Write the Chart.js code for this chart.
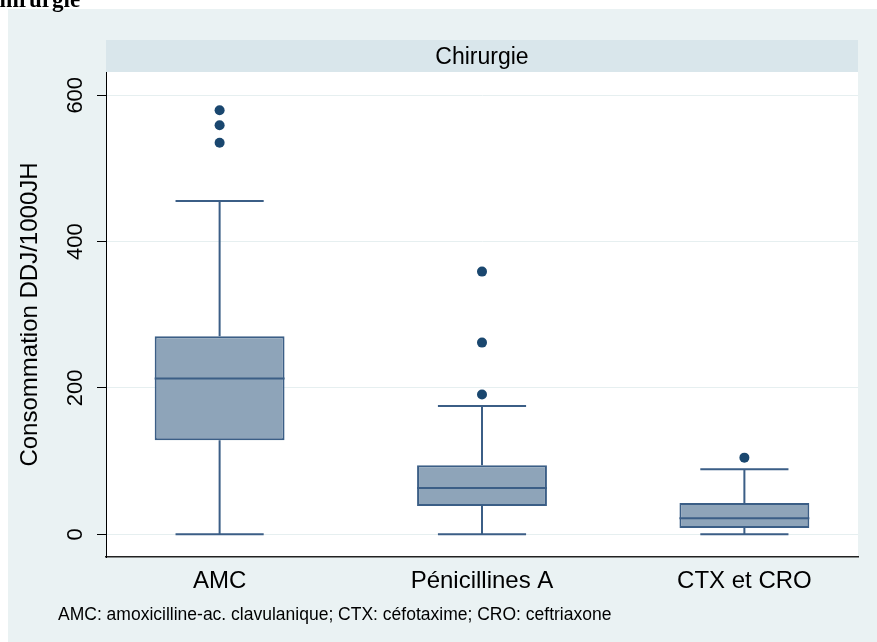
<!DOCTYPE html>
<html>
<head>
<meta charset="utf-8">
<script src="https://cdn.jsdelivr.net/npm/chart.js@4/dist/chart.umd.min.js"></script>
<style>
  html, body { margin: 0; padding: 0; background: #fff; overflow: hidden; }
  #wrap { position: absolute; left: 0; top: 0; width: 877px; height: 642px; }
</style>
</head>
<body>
<div id="wrap"><canvas id="c" width="877" height="642"></canvas></div>
<script>
// Box-plot summaries (DDJ/1000JH) per antibiotic class, surgery wards
const categories   = ['AMC', 'Pénicillines A', 'CTX et CRO'];
const lowerWhisker = [0, 0, 0];
const q1           = [128.5, 38.7, 8.7];
const median       = [212.8, 63.4, 22.0];
const q3           = [270.6, 94.3, 42.8];
const upperWhisker = [455.5, 175.4, 88.8];
const outliers     = [[579.5, 559, 535], [359, 262, 191], [104.8]];
const yTickValues  = [0, 200, 400, 600];

const panelTitle = 'Chirurgie';
const yTitle     = 'Consommation DDJ/1000JH';
const footNote   = 'AMC: amoxicilline-ac. clavulanique; CTX: céfotaxime; CRO: ceftriaxone';

// Styling
const BOX_W = 0.495;      // box width, in category units
const CAP_W = 0.336;      // whisker cap width, in category units
const LINE = '#3B5E86';
const FILL = '#8EA4B9';
const DOT  = '#1A476F';
const LW   = 2;
const SANS = '"Liberation Sans", Arial, sans-serif';

// Line segments separated by gaps (null y breaks the line)
const gap = i => ({ x: i, y: null });
const medianPts = categories.flatMap((_, i) => [
  { x: i - BOX_W / 2, y: median[i] }, { x: i + BOX_W / 2, y: median[i] }, gap(i)
]);
const whiskerPts = categories.flatMap((_, i) => [
  { x: i, y: q3[i] }, { x: i, y: upperWhisker[i] }, gap(i),
  { x: i - CAP_W / 2, y: upperWhisker[i] }, { x: i + CAP_W / 2, y: upperWhisker[i] }, gap(i),
  { x: i, y: q1[i] }, { x: i, y: lowerWhisker[i] }, gap(i),
  { x: i - CAP_W / 2, y: lowerWhisker[i] }, { x: i + CAP_W / 2, y: lowerWhisker[i] }, gap(i)
]);
const boxPts = categories.map((_, i) => ({ x: i, y: [q1[i], q3[i]] }));
const outlierPts = outliers.flatMap((vals, i) => vals.map(v => ({ x: i, y: v })));

const framePlugin = {
  id: 'frame',
  beforeDraw(chart) {
    const { ctx, chartArea: a } = chart;
    ctx.save();
    ctx.fillStyle = '#ffffff';
    ctx.fillRect(0, 0, chart.width, chart.height);
    ctx.fillStyle = '#EAF2F3';
    ctx.fillRect(8, 9, chart.width - 8, chart.height - 9);
    ctx.fillStyle = '#ffffff';
    ctx.fillRect(a.left, a.top, a.right - a.left, a.bottom - a.top);
    // strip with the panel label
    ctx.fillStyle = '#D9E6EB';
    ctx.fillRect(a.left, 40, a.right - a.left, a.top - 40);
    ctx.fillStyle = '#000';
    ctx.font = '23px ' + SANS;
    ctx.textAlign = 'center';
    ctx.textBaseline = 'alphabetic';
    ctx.fillText(panelTitle, (a.left + a.right) / 2, 64);
    ctx.restore();
  },
  afterDraw(chart) {
    const { ctx, chartArea: a } = chart;
    const xs = chart.scales.x, ys = chart.scales.y;
    ctx.save();
    ctx.fillStyle = '#000';
    // y tick labels, vertical
    ctx.font = '22px ' + SANS;
    ctx.textAlign = 'center';
    ctx.textBaseline = 'middle';
    ys.ticks.forEach(t => {
      const py = ys.getPixelForValue(t.value);
      ctx.save();
      ctx.translate(76, py);
      ctx.rotate(-Math.PI / 2);
      ctx.fillText(String(t.value), 0, 0);
      ctx.restore();
    });
    // y axis title
    ctx.font = '24px ' + SANS;
    ctx.save();
    ctx.translate(30, (a.top + a.bottom) / 2);
    ctx.rotate(-Math.PI / 2);
    ctx.fillText(yTitle, 0, 0);
    ctx.restore();
    // category labels
    ctx.textBaseline = 'alphabetic';
    ctx.font = '24px ' + SANS;
    xs.ticks.forEach(t => ctx.fillText(categories[t.value], xs.getPixelForValue(t.value), 588));
    // note
    ctx.textAlign = 'left';
    ctx.font = '17.5px ' + SANS;
    ctx.fillText(footNote, 58, 620);
    // page heading
    ctx.font = 'bold 23px "Liberation Serif", "Times New Roman", serif';
    ctx.fillText(panelTitle, -17, 7);
    ctx.restore();
  }
};

new Chart(document.getElementById('c'), {
  type: 'bar',
  data: {
    datasets: [
      {
        type: 'line', data: whiskerPts, borderColor: LINE, borderWidth: LW,
        pointRadius: 0, fill: false, spanGaps: false, tension: 0, order: 3
      },
      {
        type: 'bar', data: boxPts, backgroundColor: FILL, borderColor: LINE,
        borderWidth: LW, borderSkipped: false, categoryPercentage: 1,
        barPercentage: BOX_W, order: 2
      },
      {
        type: 'line', data: medianPts, borderColor: LINE, borderWidth: LW,
        pointRadius: 0, fill: false, spanGaps: false, tension: 0, order: 1
      },
      {
        type: 'scatter', data: outlierPts, backgroundColor: DOT, borderColor: DOT,
        pointRadius: 5, borderWidth: 0, order: 0
      }
    ]
  },
  options: {
    responsive: false,
    animation: false,
    events: [],
    layout: { padding: { left: 0, right: 19, top: 72, bottom: 0 } },
    plugins: { legend: { display: false }, tooltip: { enabled: false } },
    scales: {
      x: {
        type: 'linear', min: -0.433, max: 2.433, offset: false,
        afterBuildTicks(s) { s.ticks = categories.map((_, i) => ({ value: i })); },
        grid: { display: false, offset: false },
        border: { display: true, color: '#222', width: 1.5 },
        ticks: { display: false },
        afterFit(s) { s.height = 85; }
      },
      y: {
        type: 'linear', min: -31, max: 631.8,
        afterBuildTicks(s) { s.ticks = yTickValues.map(v => ({ value: v })); },
        ticks: { display: false },
        grid: { color: '#E6EFF0', lineWidth: 1, drawTicks: true, tickLength: 9, tickColor: '#000' },
        border: { display: true, color: '#000', width: 1 },
        afterFit(s) { s.width = 106; }
      }
    }
  },
  plugins: [framePlugin]
});
</script>
</body>
</html>
